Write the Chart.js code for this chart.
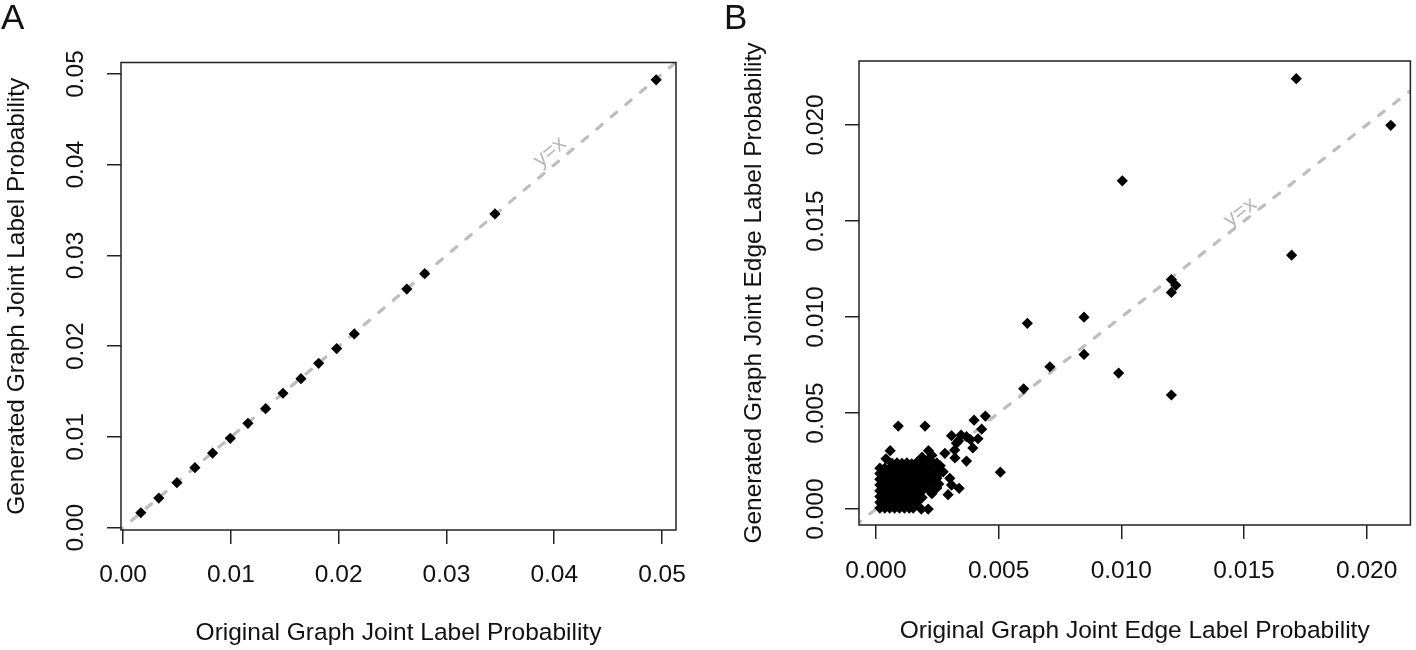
<!DOCTYPE html>
<html><head><meta charset="utf-8">
<script src="https://cdn.jsdelivr.net/npm/chart.js@4.4.1/dist/chart.umd.min.js"></script>
<style>
html,body{margin:0;padding:0;background:#fff;width:1416px;height:650px;overflow:hidden;}
canvas{position:absolute;top:0;}
#cA{left:0;} #cB{left:708px;}
.lbl{position:absolute;font-family:"Liberation Sans",Arial,Helvetica,sans-serif;font-size:35px;line-height:35px;color:#111;}
</style></head><body>
<canvas id="cA" width="708" height="650"></canvas>
<canvas id="cB" width="708" height="650"></canvas>
<div class="lbl" style="left:1px;top:-1px">A</div>
<div class="lbl" style="left:724px;top:-1px">B</div>
<script>
const FONT = '"Liberation Sans", Arial, Helvetica, sans-serif';

// ---- Panel A data ----
const aX = [0.00164,0.00331,0.00499,0.00666,0.0083,0.00994,0.01158,0.01322,0.01483,0.0165,0.01814,0.01981,0.02145,0.02632,0.02798,0.0345,0.04946];
const aY = [0.00165,0.00327,0.00496,0.00662,0.00823,0.00985,0.01151,0.01312,0.01482,0.01643,0.01812,0.01974,0.02136,0.0263,0.0280,0.03458,0.04936];
const aTicks = [0,0.01,0.02,0.03,0.04,0.05];
const aTickLabels = ['0.00','0.01','0.02','0.03','0.04','0.05'];

// ---- Panel B data: scattered points ----
const bX = [0.01713,0.02098,0.01004,0.01694,0.01204,0.01222,0.01204,0.00848,0.00617,0.00848,0.00709,0.00989,0.00602,0.01204,0.00507,0.00446,0.0040,0.00431,
  0.00308,0.00347,0.00369,0.00385,0.00416,0.00328,0.00336,0.00395,0.00321,0.00281,0.00369,0.00322,0.00301,0.00274,0.00308,0.00339,0.00294,0.00256,
  0.00091,0.0020,0.00058,0.00214,0.00185,0.00213];
const bY = [0.02241,0.01998,0.01709,0.01322,0.01195,0.01165,0.01128,0.00999,0.00967,0.00805,0.00741,0.00708,0.00626,0.00594,0.00192,0.00484,0.00463,0.00416,
  0.00382,0.00385,0.00377,0.00362,0.00366,0.00343,0.00355,0.00318,0.00307,0.0029,0.0025,0.00266,0.0016,0.00194,0.00125,0.00108,0.00075,0.00131,
  0.00432,0.00432,0.00304,0.00304,0.0,0.0];
// ---- Panel B data: dense cluster near the origin ----
const cX = [
  0.00016,0.00016,0.00016,0.00016,0.00016,0.00016,0.00016,0.00016,
  0.00036,0.00036,0.00036,0.00036,0.00036,0.00036,0.00036,0.00036,
  0.00056,0.00056,0.00056,0.00056,0.00056,0.00056,0.00056,0.00056,
  0.00076,0.00076,0.00076,0.00076,0.00076,0.00076,0.00076,0.00076,
  0.00096,0.00096,0.00096,0.00096,0.00096,0.00096,0.00096,0.00096,
  0.00116,0.00116,0.00116,0.00116,0.00116,0.00116,0.00116,0.00116,
  0.00136,0.00136,0.00136,0.00136,0.00136,0.00136,0.00136,0.00136,
  0.00152,0.00152,0.00152,0.00152,0.00152,0.00152,0.00152,0.00152,
  0.00041,0.00066,0.00086,0.00106,0.00126,0.00146,
  0.00168,0.00168,0.00168,0.00168,0.00168,0.00168,0.00168,0.00168,
  0.00188,0.00188,0.00188,0.00188,0.00188,0.00188,0.00188,
  0.00208,0.00208,0.00208,0.00208,0.00208,
  0.00228,0.00228,0.00228,0.00228,0.00228,0.00228,
  0.00248,0.00248,0.00248,0.00248,
  0.00262,0.00262];
const cY = [
  0.00005,0.00035,0.00065,0.00095,0.00125,0.00155,0.00185,0.00213,
  0.00005,0.00035,0.00065,0.00095,0.00125,0.00155,0.00185,0.00213,
  0.00005,0.00035,0.00065,0.00095,0.00125,0.00155,0.00185,0.00213,
  0.00005,0.00035,0.00065,0.00095,0.00125,0.00155,0.00185,0.00213,
  0.00005,0.00035,0.00065,0.00095,0.00125,0.00155,0.00185,0.00213,
  0.00005,0.00035,0.00065,0.00095,0.00125,0.00155,0.00185,0.00213,
  0.00005,0.00035,0.00065,0.00095,0.00125,0.00155,0.00185,0.00213,
  0.00005,0.00035,0.00065,0.00095,0.00125,0.00155,0.00185,0.00213,
  0.00262,0.00238,0.0024,0.00238,0.0024,0.00236,
  0.00035,0.00065,0.00095,0.00125,0.00155,0.00185,0.00215,0.00245,
  0.0006,0.00095,0.0013,0.00165,0.002,0.00235,0.0027,
  0.0011,0.00145,0.0018,0.00215,0.0025,
  0.0008,0.0014,0.00175,0.0021,0.00245,0.0028,
  0.0011,0.0016,0.002,0.0024,
  0.0019,0.00225];
const bTicks = [0,0.005,0.01,0.015,0.02];
const bTickLabels = ['0.000','0.005','0.010','0.015','0.020'];

const diagLine = [-0.01, 0.1];   // y = x reference line extent (clipped)

const boxPlugin = {
  id: 'box',
  afterDraw(chart) {
    const {ctx, chartArea: a} = chart;
    ctx.save();
    ctx.strokeStyle = '#222';
    ctx.lineWidth = 1.5;
    ctx.strokeRect(a.left, a.top, a.right - a.left, a.bottom - a.top);
    ctx.restore();
  }
};

function labelPlugin(lx, ly) {
  return {
    id: 'yxlabel',
    afterDatasetsDraw(chart) {
      const {ctx, scales: {x, y}} = chart;
      const px = x.getPixelForValue(lx), py = y.getPixelForValue(ly);
      const ang = Math.atan2(y.getPixelForValue(1) - y.getPixelForValue(0), x.getPixelForValue(1) - x.getPixelForValue(0));
      ctx.save();
      ctx.translate(px, py);
      ctx.rotate(ang);
      ctx.font = '22px ' + FONT;
      ctx.fillStyle = '#b8b8b8';
      ctx.textAlign = 'center';
      ctx.textBaseline = 'middle';
      ctx.fillText('y=x', 0, 0);
      ctx.restore();
    }
  };
}

function build(id, xs, ys, p) {
  const pts = xs.map((v, i) => ({x: v, y: ys[i]}));
  const diag = diagLine.map(v => ({x: v, y: v}));
  const tickFont = {family: FONT, size: 24.5};
  return new Chart(document.getElementById(id), {
    type: 'scatter',
    data: {
      datasets: [
        {data: pts, pointStyle: 'rectRot', pointRadius: 5.6, pointBackgroundColor: '#000', pointBorderWidth: 0, order: 0, clip: false},
        {data: diag, showLine: true, borderColor: '#bdbdbd', borderWidth: 3.2, borderDash: [7, 12], borderCapStyle: 'round', pointRadius: 0, fill: false, order: 1, clip: 0}
      ]
    },
    options: {
      responsive: false, animation: false, events: [],
      layout: {padding: {left: 0, right: p.padR, top: p.padT, bottom: 0}},
      plugins: {legend: {display: false}, tooltip: {enabled: false}},
      scales: {
        x: {
          type: 'linear', min: p.xMin, max: p.xMax,
          afterFit(s) { s.height = p.xH; s.paddingLeft = 0; s.paddingRight = 0; },
          afterBuildTicks(s) { s.ticks = p.ticks.map(v => ({value: v})); },
          ticks: {callback: (v, i) => p.labels[i], font: tickFont, color: '#111', padding: p.xTickPad, maxRotation: 0, minRotation: 0, autoSkip: false},
          grid: {display: true, drawOnChartArea: false, drawTicks: true, tickLength: 14, color: '#222', lineWidth: 1.5},
          border: {display: false},
          title: {display: true, text: p.xTitle, font: tickFont, color: '#111', padding: {top: 0, bottom: p.xTitlePad}}
        },
        y: {
          type: 'linear', min: p.yMin, max: p.yMax,
          afterFit(s) { s.width = p.yW; s.paddingTop = 0; s.paddingBottom = 0; },
          afterBuildTicks(s) { s.ticks = p.ticks.map(v => ({value: v})); },
          ticks: {callback: (v, i) => p.labels[i], font: tickFont, color: '#111', padding: p.yTickPad, minRotation: 90, maxRotation: 90, crossAlign: 'center', autoSkip: false},
          grid: {display: true, drawOnChartArea: false, drawTicks: true, tickLength: 14, color: '#222', lineWidth: 1.5},
          border: {display: false},
          title: {display: true, text: p.yTitle, font: tickFont, color: '#111', padding: {top: p.yTitlePad, bottom: 0}}
        }
      }
    },
    plugins: [boxPlugin, labelPlugin(p.lblX, p.lblY)]
  });
}

build('cA', aX, aY, {
  xMin: -0.0002, xMax: 0.0513, yMin: -0.00025, yMax: 0.05127,
  padR: 32, padT: 62.5, xH: 120, yW: 121,
  ticks: aTicks, labels: aTickLabels,
  xTickPad: 16.8, yTickPad: 6.65, xTitlePad: 2.5, yTitlePad: 2.3,
  xTitle: 'Original Graph Joint Label Probability',
  yTitle: 'Generated Graph Joint Label Probability',
  lblX: 0.0396, lblY: 0.0414
});

build('cB', bX.concat(cX), bY.concat(cY), {
  xMin: -0.00069, xMax: 0.02178, yMin: -0.00083, yMax: 0.02333,
  padR: 3, padT: 61, xH: 125, yW: 151,
  ticks: bTicks, labels: bTickLabels,
  xTickPad: 17.8, yTickPad: -1.65, xTitlePad: 4.5, yTitlePad: 32,
  xTitle: 'Original Graph Joint Edge Label Probability',
  yTitle: 'Generated Graph Joint Edge Label Probability',
  lblX: 0.01485, lblY: 0.01545
});
</script>
</body></html>
